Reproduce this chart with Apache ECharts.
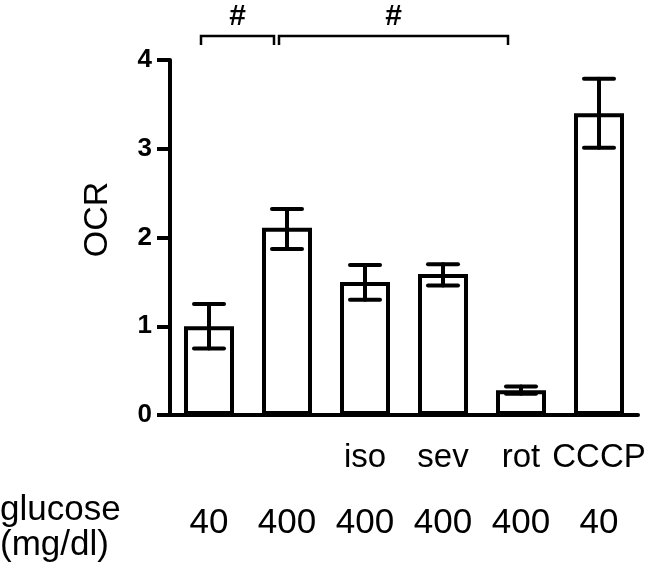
<!DOCTYPE html>
<html>
<head>
<meta charset="utf-8">
<script src="https://cdn.jsdelivr.net/npm/echarts@6/dist/echarts.min.js"></script>
<style>
  html, body { margin: 0; padding: 0; background: #fff; }
  #chart { width: 653px; height: 565px; }
</style>
</head>
<body>
<div id="chart"></div>
<script>
// conditions under each bar, and the glucose row
const treatments = ['', '', 'iso', 'sev', 'rot', 'CCCP'];
const glucose = ['40', '400', '400', '400', '400', '40'];
const ocrMean = [1.0, 2.11, 1.5, 1.59, 0.28, 3.4];
const ocrLow = [0.75, 1.87, 1.3, 1.46, 0.24, 3.01];
const ocrHigh = [1.25, 2.32, 1.69, 1.7, 0.32, 3.79];
const yTicks = [0, 1, 2, 3, 4];
// significance brackets: from category, to category, level, mark
const bracketFrom = [0, 1];
const bracketTo = [1, 4];
const bracketLevel = [4.27, 4.27];
const bracketMark = ['#', '#'];

const chart = echarts.init(document.getElementById('chart'));

const fontFam = 'Liberation Sans';

const option = {
  animation: false,
  grid: { left: 170, right: 15, top: 60, bottom: 146 },
  xAxis: {
    type: 'category',
    data: treatments.map((t, i) => i),
    axisLine: { lineStyle: { color: '#000', width: 4 } },
    axisTick: { alignWithLabel: true, length: 14, lineStyle: { color: '#000', width: 4 } },
    axisLabel: {
      margin: 20,
      interval: 0,
      formatter: (v) => '{a|' + (treatments[v] || ' ') + '}\n{b|' + glucose[v] + '}',
      rich: {
        a: { fontFamily: fontFam, fontSize: 33, color: '#000', lineHeight: 46, height: 46 },
        b: { fontFamily: fontFam, fontSize: 35, color: '#000', lineHeight: 84, height: 84 }
      }
    }
  },
  yAxis: {
    type: 'value',
    min: 0,
    max: 4,
    interval: 1,
    name: 'OCR',
    nameLocation: 'middle',
    nameRotate: 90,
    nameGap: 55,
    nameTextStyle: { fontFamily: fontFam, fontSize: 34, color: '#000', padding: [0, 0, 0, 36] },
    splitLine: { show: false },
    axisLine: { show: true, lineStyle: { color: '#000', width: 4 } },
    axisTick: { show: true, length: 13, lineStyle: { color: '#000', width: 4 } },
    axisLabel: {
      margin: 18,
      color: '#000',
      formatter: (v) => (yTicks.indexOf(v) >= 0 ? '{t|' + v + '}' : ''),
      rich: {
        t: { fontFamily: fontFam, fontWeight: 'bold', fontSize: 26, color: '#000' }
      }
    }
  },
  graphic: [{
    type: 'text',
    left: 0,
    top: 493,
    style: {
      text: 'glucose\n(mg/dl)',
      fontFamily: fontFam,
      fontSize: 35,
      lineHeight: 35,
      fill: '#000'
    }
  }],
  series: [
    {
      type: 'bar',
      data: ocrMean,
      barWidth: 50,
      itemStyle: { color: '#fff', borderColor: '#000', borderWidth: 4 },
      z: 2
    },
    {
      type: 'custom',
      data: ocrMean.map((m, i) => [i, ocrLow[i], ocrHigh[i]]),
      z: 3,
      renderItem: function (params, api) {
        const lo = api.coord([api.value(0), api.value(1)]);
        const hi = api.coord([api.value(0), api.value(2)]);
        const hw = 15;
        const st = { stroke: '#000', lineWidth: 4, lineCap: 'round' };
        return {
          type: 'group',
          children: [
            { type: 'line', shape: { x1: hi[0], y1: hi[1], x2: lo[0], y2: lo[1] }, style: st },
            { type: 'line', shape: { x1: hi[0] - hw, y1: hi[1], x2: hi[0] + hw, y2: hi[1] }, style: st },
            { type: 'line', shape: { x1: lo[0] - hw, y1: lo[1], x2: lo[0] + hw, y2: lo[1] }, style: st }
          ]
        };
      }
    },
    {
      type: 'custom',
      data: bracketFrom.map((f, i) => [f, bracketTo[i], bracketLevel[i]]),
      clip: false,
      z: 3,
      renderItem: function (params, api) {
        const a = api.coord([api.value(0), api.value(2)]);
        const b = api.coord([api.value(1), api.value(2)]);
        const x1 = a[0] - 8;
        const x2 = b[0] - 13;
        const y = a[1];
        const st = { stroke: '#000', lineWidth: 2.5, fill: null };
        return {
          type: 'group',
          children: [
            { type: 'polyline', shape: { points: [[x1, y + 9], [x1, y], [x2, y], [x2, y + 9]] }, style: st },
            {
              type: 'text',
              x: (x1 + x2) / 2,
              y: y - 19,
              style: {
                text: bracketMark[params.dataIndex],
                fontFamily: fontFam,
                fontWeight: 'bold',
                fontSize: 30,
                fill: '#000',
                align: 'center',
                verticalAlign: 'middle'
              }
            }
          ]
        };
      }
    }
  ]
};

chart.setOption(option);
</script>
</body>
</html>
